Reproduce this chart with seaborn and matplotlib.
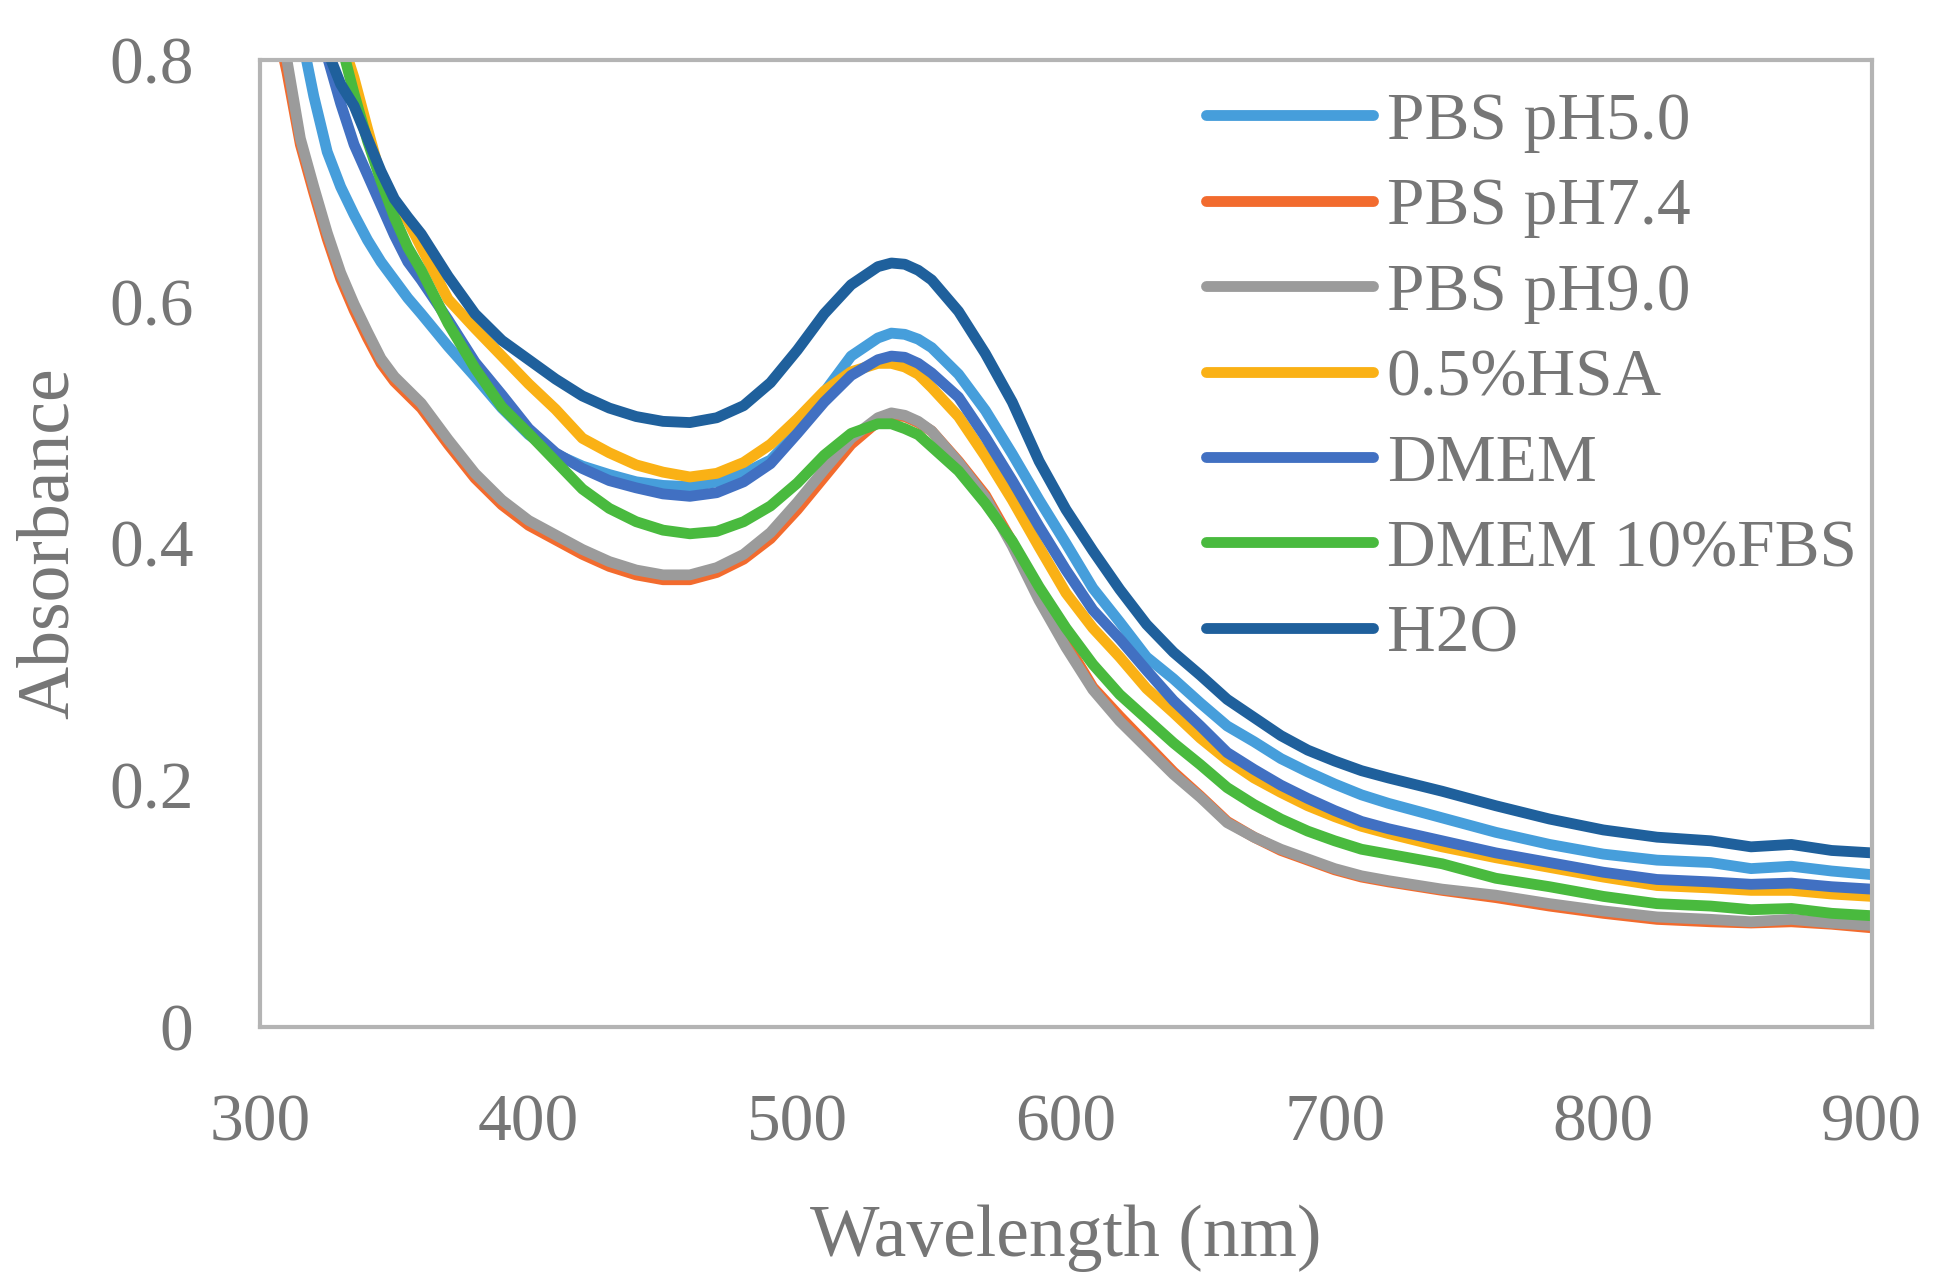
import pandas as pd
import matplotlib
matplotlib.use("Agg")
import matplotlib.pyplot as plt
import seaborn as sns

# wavelength grid (nm) shared by all spectra
wavelength = [305, 310, 315, 320, 325, 330, 335, 340, 345, 350, 355, 360,
              370, 380, 390, 400, 410, 420, 430, 440, 450, 460, 470, 480,
              490, 500, 510, 520, 530, 535, 540, 545, 550, 560, 570, 580,
              590, 600, 610, 620, 630, 640, 650, 660, 670, 680, 690, 700,
              710, 720, 740, 760, 780, 800, 820, 840, 855, 870, 885, 900]

pbs_ph50 = [0.95, 0.89, 0.825, 0.77, 0.724, 0.695, 0.672, 0.651, 0.633, 0.618, 0.603, 0.590,
            0.563, 0.538, 0.512, 0.490, 0.474, 0.464, 0.457, 0.451, 0.448, 0.447, 0.451, 0.458,
            0.469, 0.492, 0.525, 0.555, 0.570, 0.574, 0.573, 0.569, 0.562, 0.540, 0.510, 0.474,
            0.436, 0.400, 0.363, 0.335, 0.306, 0.288, 0.268, 0.249, 0.236, 0.222, 0.211, 0.201,
            0.192, 0.185, 0.173, 0.161, 0.151, 0.143, 0.138, 0.136, 0.131, 0.133, 0.129, 0.126]

pbs_ph74 = [0.84, 0.79, 0.730, 0.690, 0.652, 0.619, 0.593, 0.570, 0.549, 0.534, 0.523, 0.512,
            0.482, 0.454, 0.432, 0.415, 0.403, 0.391, 0.381, 0.374, 0.370, 0.370, 0.376, 0.387,
            0.404, 0.428, 0.455, 0.482, 0.501, 0.506, 0.505, 0.500, 0.493, 0.468, 0.440, 0.401,
            0.357, 0.318, 0.281, 0.257, 0.234, 0.211, 0.191, 0.170, 0.157, 0.146, 0.138, 0.130,
            0.124, 0.120, 0.113, 0.107, 0.100, 0.094, 0.089, 0.087, 0.086, 0.087, 0.085, 0.082]

pbs_ph90 = [0.86, 0.80, 0.735, 0.695, 0.657, 0.624, 0.598, 0.575, 0.553, 0.538, 0.527, 0.516,
            0.486, 0.458, 0.436, 0.419, 0.407, 0.395, 0.385, 0.378, 0.374, 0.374, 0.380, 0.391,
            0.409, 0.434, 0.461, 0.487, 0.504, 0.508, 0.506, 0.501, 0.493, 0.467, 0.438, 0.398,
            0.353, 0.314, 0.279, 0.253, 0.231, 0.209, 0.190, 0.169, 0.157, 0.147, 0.139, 0.131,
            0.125, 0.121, 0.114, 0.109, 0.102, 0.096, 0.091, 0.089, 0.087, 0.089, 0.086, 0.084]

hsa = [1.10, 1.05, 0.99, 0.93, 0.87, 0.82, 0.785, 0.743, 0.703, 0.683, 0.667, 0.645,
       0.602, 0.578, 0.555, 0.532, 0.511, 0.487, 0.475, 0.465, 0.459, 0.455, 0.458, 0.467,
       0.482, 0.503, 0.526, 0.542, 0.549, 0.549, 0.546, 0.540, 0.529, 0.505, 0.472, 0.436,
       0.397, 0.359, 0.330, 0.306, 0.280, 0.260, 0.239, 0.221, 0.206, 0.194, 0.183, 0.174,
       0.166, 0.160, 0.149, 0.140, 0.132, 0.124, 0.117, 0.115, 0.113, 0.113, 0.110, 0.108]

dmem = [1.00, 0.93, 0.88, 0.84, 0.803, 0.764, 0.730, 0.705, 0.680, 0.655, 0.633, 0.618,
        0.585, 0.550, 0.523, 0.495, 0.475, 0.462, 0.452, 0.446, 0.441, 0.439, 0.442, 0.451,
        0.466, 0.491, 0.517, 0.539, 0.552, 0.555, 0.554, 0.549, 0.541, 0.521, 0.488, 0.452,
        0.414, 0.378, 0.345, 0.321, 0.295, 0.270, 0.249, 0.227, 0.213, 0.200, 0.189, 0.179,
        0.170, 0.164, 0.154, 0.144, 0.136, 0.128, 0.122, 0.120, 0.118, 0.119, 0.116, 0.114]

dmem_fbs = [1.20, 1.10, 1.02, 0.95, 0.88, 0.815, 0.772, 0.733, 0.700, 0.670, 0.645, 0.626,
            0.582, 0.545, 0.513, 0.491, 0.468, 0.445, 0.429, 0.418, 0.411, 0.408, 0.410, 0.418,
            0.431, 0.450, 0.473, 0.491, 0.499, 0.499, 0.495, 0.490, 0.480, 0.460, 0.433, 0.402,
            0.364, 0.330, 0.300, 0.275, 0.255, 0.235, 0.217, 0.198, 0.184, 0.172, 0.162, 0.154,
            0.147, 0.143, 0.135, 0.123, 0.116, 0.108, 0.102, 0.100, 0.097, 0.098, 0.094, 0.092]

h2o = [1.00, 0.95, 0.90, 0.85, 0.808, 0.78, 0.762, 0.735, 0.708, 0.685, 0.670, 0.656,
       0.621, 0.590, 0.568, 0.552, 0.536, 0.522, 0.512, 0.505, 0.501, 0.500, 0.504, 0.514,
       0.533, 0.560, 0.590, 0.614, 0.629, 0.632, 0.631, 0.626, 0.618, 0.592, 0.557, 0.517,
       0.468, 0.428, 0.394, 0.362, 0.333, 0.310, 0.291, 0.271, 0.256, 0.241, 0.229, 0.220,
       0.212, 0.206, 0.195, 0.183, 0.172, 0.163, 0.157, 0.154, 0.149, 0.151, 0.146, 0.144]

series_names = ["PBS pH5.0", "PBS pH7.4", "PBS pH9.0", "0.5%HSA",
                "DMEM", "DMEM 10%FBS", "H2O"]
series_values = [pbs_ph50, pbs_ph74, pbs_ph90, hsa, dmem, dmem_fbs, h2o]
series_colors = ["#469EDB", "#F26B2E", "#9B9B9B", "#FAB115",
                 "#4170C2", "#49BA3E", "#1F609C"]

x_ticks = [300, 400, 500, 600, 700, 800, 900]
y_ticks = [0, 0.2, 0.4, 0.6, 0.8]
y_tick_labels = ["0", "0.2", "0.4", "0.6", "0.8"]

text_grey = "#767676"
frame_grey = "#B4B4B4"


def build_frame():
    rows = []
    for name, values in zip(series_names, series_values):
        for wl, absorb in zip(wavelength, values):
            rows.append({"Wavelength": wl, "Absorbance": absorb, "Sample": name})
    return pd.DataFrame(rows)


def plot_spectra(df, output_path="out.png"):
    sns.set_style("white")
    plt.rcParams["font.family"] = ["Liberation Serif", "DejaVu Serif"]

    fig = plt.figure(figsize=(19.35, 12.84), dpi=100)
    ax = fig.add_axes([0.1344, 0.2002, 0.8330, 0.7531])

    sns.lineplot(data=df, x="Wavelength", y="Absorbance", hue="Sample",
                 hue_order=series_names, palette=series_colors,
                 estimator=None, linewidth=7.8, ax=ax)
    for line in ax.get_lines():
        line.set_solid_joinstyle("round")

    ax.set_xlim(300, 900)
    ax.set_ylim(0, 0.8)
    ax.set_xticks(x_ticks)
    ax.set_yticks(y_ticks)
    ax.set_yticklabels(y_tick_labels)
    ax.tick_params(axis="both", length=0, labelsize=48.5, colors=text_grey)
    ax.tick_params(axis="x", pad=48)
    ax.tick_params(axis="y", pad=48)

    for spine in ax.spines.values():
        spine.set_visible(True)
        spine.set_color(frame_grey)
        spine.set_linewidth(3)

    ax.set_xlabel("Wavelength (nm)", fontsize=53, color=text_grey, labelpad=36)
    ax.set_ylabel("Absorbance", fontsize=53, color=text_grey, labelpad=18)

    leg = ax.legend(loc="upper left", bbox_to_anchor=(0.587, 0.967),
                    frameon=False, fontsize=48.5, handlelength=2.48,
                    handletextpad=0.2, labelspacing=0.36, borderpad=0,
                    borderaxespad=0)
    for line in leg.get_lines():
        line.set_linewidth(7.8)
        line.set_solid_capstyle("round")
    for text in leg.get_texts():
        text.set_color(text_grey)

    fig.savefig(output_path, dpi=100)
    plt.close(fig)


if __name__ == "__main__":
    plot_spectra(build_frame())
